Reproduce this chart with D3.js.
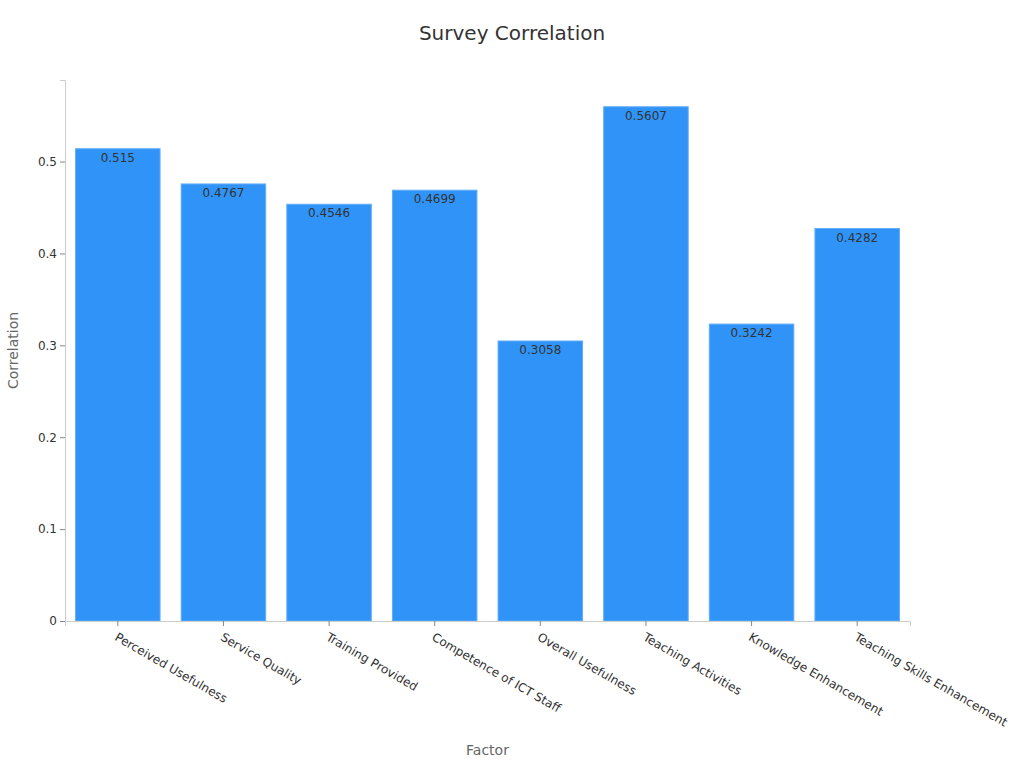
<!DOCTYPE html>
<html>
<head>
<meta charset="utf-8">
<script src="https://cdn.jsdelivr.net/npm/d3@7"></script>
<style>
  body { margin: 0; background: #fff; }
  svg { font-family: "DejaVu Sans", sans-serif; }
</style>
</head>
<body>
<svg id="chart" width="1024" height="768"></svg>
<script>
const factors = [
  "Perceived Usefulness", "Service Quality", "Training Provided", "Competence of ICT Staff",
  "Overall Usefulness", "Teaching Activities", "Knowledge Enhancement", "Teaching Skills Enhancement"
];
const correlations = [0.515, 0.4767, 0.4546, 0.4699, 0.3058, 0.5607, 0.3242, 0.4282];
const yTicks = [0, 0.1, 0.2, 0.3, 0.4, 0.5];

const svg = d3.select("#chart");
const margin = { top: 80, right: 114, bottom: 147, left: 65 };
const width = 1024 - margin.left - margin.right;
const height = 768 - margin.top - margin.bottom;

const g = svg.append("g")
  .attr("transform", `translate(${margin.left},${margin.top})`);

const x = d3.scaleBand()
  .domain(factors)
  .range([0, width])
  .paddingInner(0.2)
  .paddingOuter(0.1);

const y = d3.scaleLinear()
  .domain([0, d3.max(correlations) * 1.05])
  .range([height, 0]);

// bars
g.selectAll("rect.bar")
  .data(factors)
  .enter()
  .append("rect")
  .attr("class", "bar")
  .attr("x", d => x(d))
  .attr("y", (d, i) => y(correlations[i]) + 1)
  .attr("width", x.bandwidth())
  .attr("height", (d, i) => height - y(correlations[i]) - 1)
  .attr("fill", "#2f93f7")
  .attr("stroke", "#62adf7")
  .attr("stroke-width", 1);

// value labels
g.selectAll("text.val")
  .data(factors)
  .enter()
  .append("text")
  .attr("class", "val")
  .attr("x", d => x(d) + x.bandwidth() / 2)
  .attr("y", (d, i) => y(correlations[i]) + 14)
  .attr("text-anchor", "middle")
  .attr("font-size", 12)
  .attr("fill", "#333")
  .text((d, i) => correlations[i]);

// x axis
const xAxis = g.append("g")
  .attr("transform", `translate(0,${height})`)
  .call(d3.axisBottom(x).tickSizeOuter(0).tickSize(5));
xAxis.select(".domain").attr("stroke", "#ccc");
xAxis.selectAll(".tick line").attr("stroke", "#888");
xAxis.selectAll(".tick text")
  .attr("font-size", 12)
  .attr("font-family", "DejaVu Sans, sans-serif")
  .attr("fill", "#333")
  .attr("text-anchor", "start")
  .attr("transform", "rotate(30)")
  .attr("x", 6)
  .attr("y", 18)
  .attr("dy", "0");

// y axis
const yAxis = g.append("g")
  .call(d3.axisLeft(y).tickValues(yTicks).tickFormat(d => d === 0 ? "0" : d3.format(".1f")(d)).tickSizeOuter(0).tickSize(5));
yAxis.select(".domain").attr("stroke", "#ccc");
yAxis.selectAll(".tick line").attr("stroke", "#888");
yAxis.selectAll(".tick text")
  .attr("font-size", 12)
  .attr("font-family", "DejaVu Sans, sans-serif")
  .attr("fill", "#333");

// title
svg.append("text")
  .attr("x", 512)
  .attr("y", 40)
  .attr("text-anchor", "middle")
  .attr("font-size", 20)
  .attr("fill", "#333")
  .text("Survey Correlation");

svg.append("text")
  .attr("x", margin.left + width / 2)
  .attr("y", 755)
  .attr("text-anchor", "middle")
  .attr("font-size", 14)
  .attr("fill", "#666")
  .text("Factor");

svg.append("text")
  .attr("transform", `translate(18,${margin.top + height / 2}) rotate(-90)`)
  .attr("text-anchor", "middle")
  .attr("font-size", 14)
  .attr("fill", "#666")
  .text("Correlation");
</script>
</body>
</html>
